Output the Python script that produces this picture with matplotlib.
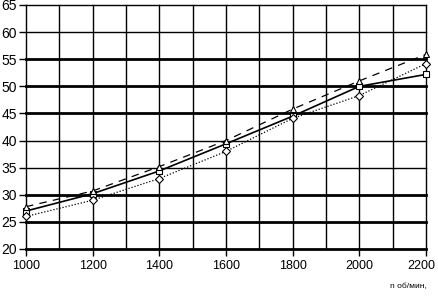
import matplotlib
matplotlib.use('Agg')
import matplotlib.pyplot as plt
import matplotlib.transforms as mtransforms
import numpy as np

plt.rcParams['font.family'] = ['Liberation Sans', 'DejaVu Sans']

# Speed, rpm
rpm = [1000, 1200, 1400, 1600, 1800, 2000, 2200]
# three curves
solid_sq = [27.0, 30.2, 34.4, 39.4, 44.5, 50.0, 52.2]
dashed_tri = [27.8, 30.7, 35.2, 40.0, 45.8, 51.0, 55.9]
dotted_dia = [26.0, 29.0, 33.0, 38.0, 44.1, 48.3, 54.2]

y_ticks = np.arange(20, 66, 5)
thick_y = [20, 25, 30, 45, 50, 55]
x_major = np.arange(1000, 2201, 200)
x_minor = np.arange(1000, 2201, 100)

fig = plt.figure(figsize=(4.38, 2.97), dpi=100)
ax = fig.add_axes([26/438, (297-249)/297, 400/438, 244/297])

# grid
for y in y_ticks:
    lw = 2.0 if y in thick_y else 1.0
    ax.axhline(y, color='black', lw=lw, zorder=1, clip_on=False)
for x in x_minor:
    ax.axvline(x, color='black', lw=1.0, zorder=1, clip_on=False)

ax.plot(rpm, solid_sq, color='black', lw=1.2, marker='s', ms=5,
        mfc='white', mec='black', mew=0.8, zorder=3, clip_on=False)
ax.plot(rpm, dashed_tri, color='black', lw=0.9, ls=(0, (6, 5)), marker='^', ms=5,
        mfc='white', mec='black', mew=0.8, zorder=3, clip_on=False)
ax.plot(rpm, dotted_dia, color='black', lw=0.9, ls=(0, (1, 1.5)), marker='D', ms=4,
        mfc='white', mec='black', mew=0.8, zorder=3, clip_on=False)

ax.set_xlim(1000, 2200)
ax.set_ylim(20, 65)
ax.set_xticks(x_major)
ax.set_yticks(y_ticks)
ax.tick_params(axis='both', length=5, width=1, color='black')
ax.tick_params(axis='x', labelsize=9, pad=3)
ax.tick_params(axis='y', labelsize=10, pad=1.5)
for s in ax.spines.values():
    s.set_visible(False)

# pull the last x label slightly inside the figure
last = ax.get_xticklabels()[-1]
last.set_transform(last.get_transform() +
                   mtransforms.ScaledTranslation(-5/100, 0, fig.dpi_scale_trans))

fig.text(427/438, 1 - 287/297, 'n об/мин,', fontsize=6, ha='right', va='center')

fig.savefig('out.png', dpi=100)
